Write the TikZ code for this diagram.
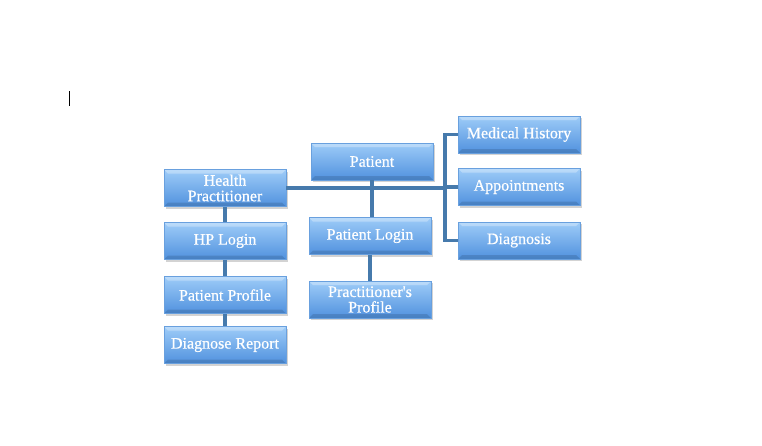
\documentclass[tikz,border=0pt]{standalone}
\usepackage{fontspec}
\setmainfont{Liberation Serif}
\newfontfamily\boxfont{Liberation Serif}[FakeBold=0.6, BoldFont={Liberation Serif}]
\usetikzlibrary{shadows}

\definecolor{boxtop}{RGB}{158,204,248}
\definecolor{boxbot}{RGB}{80,145,222}
\definecolor{boxedge}{RGB}{105,160,222}
\definecolor{connblue}{RGB}{70,122,172}

\begin{document}
\begin{tikzpicture}[
  x=1pt, y=-1pt,
  box/.style={rectangle, minimum width=122pt, minimum height=37pt, inner sep=1pt,
              top color=boxtop, bottom color=boxbot, draw=boxedge, line width=0.6pt,
              text=white, align=center,
              font=\boxfont\bfseries\fontsize{16}{15.5}\selectfont,
              drop shadow={shadow xshift=1.5pt, shadow yshift=-2pt, opacity=0.35},
              path picture={
                \fill[white, opacity=0.3]
                  (path picture bounding box.north west) -- (path picture bounding box.north east)
                  -- ([xshift=-4pt, yshift=-4pt]path picture bounding box.north east)
                  -- ([xshift=4pt, yshift=-4pt]path picture bounding box.north west) -- cycle;
                \fill[black, opacity=0.12]
                  (path picture bounding box.south west) -- (path picture bounding box.south east)
                  -- ([xshift=-4pt, yshift=4pt]path picture bounding box.south east)
                  -- ([xshift=4pt, yshift=4pt]path picture bounding box.south west) -- cycle;
              }},
  conn/.style={draw=connblue, line width=3.2pt}
]
\useasboundingbox (0,0) rectangle (762,445);

% text cursor
\draw[line width=0.9pt] (69,91) -- (69,106);

% left column
\node[box] (hp) at (225,188) {Health\\Practitioner};
\node[box] (hplogin) at (225,241) {HP Login};
\node[box] (ptprofile) at (225,295) {Patient Profile};
\node[box] (diagreport) at (225,345) {Diagnose Report};

% middle column
\node[box] (patient) at (372,161.5) {Patient};
\node[box] (ptlogin) at (370,236) {Patient Login};
\node[box] (prprofile) at (370,299.5) {Practitioner\textquotesingle s\\Profile};

% right column
\node[box] (medhist) at (519,134.5) {Medical History};
\node[box] (appoint) at (519,187) {Appointments};
\node[box] (diagnosis) at (519,240.5) {Diagnosis};

\coordinate (trunk) at (445,188);

\draw[conn] (hp.east) -- (trunk);
\draw[conn] (medhist.west) -| (trunk);
\draw[conn] (diagnosis.west) -| (trunk);
\draw[conn] (appoint.west) -- (appoint.west -| trunk);
\foreach \a/\b in {hp/hplogin, hplogin/ptprofile, ptprofile/diagreport}
  \draw[conn] (\a) -- (\b);
\draw[conn] (patient.south) -- (patient.south |- ptlogin.north);
\draw[conn] (ptlogin.south) -- (ptlogin.south |- prprofile.north);
\end{tikzpicture}
\end{document}
